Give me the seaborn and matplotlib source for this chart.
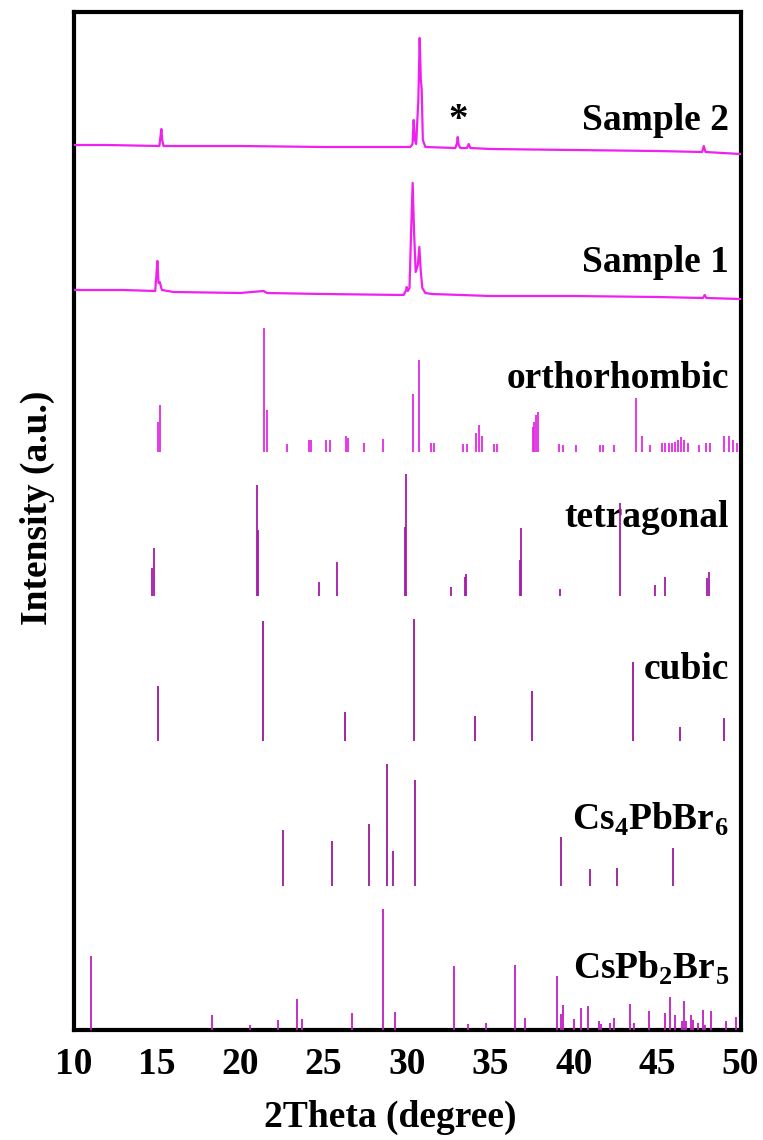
import numpy as np
import pandas as pd
import matplotlib
matplotlib.use("Agg")
import matplotlib.pyplot as plt
import seaborn as sns

# ---------------- data ----------------
# measured patterns (2theta, intensity above each trace's offset, a.u.)
sample2_x = [10, 12, 15.15, 15.22, 15.27, 15.32, 15.4, 20, 25, 30.2, 30.33, 30.4, 30.47, 30.55,
             30.68, 30.76, 30.83, 30.88, 30.95, 31.1, 32.9, 33.0, 33.04, 33.1, 33.2, 33.6, 33.7,
             33.8, 35, 40, 45, 47.7, 47.8, 47.9, 50]
sample2_y = [10, 10, 9, 19, 26, 15, 9, 9, 8, 8, 11, 35, 15, 11,
             55, 117, 75, 66, 15, 8, 7, 12, 18, 10, 7, 7, 11,
             7, 6, 5, 4, 3, 9, 3, 1]

sample1_x = [10, 13, 14.9, 14.97, 15.03, 15.1, 15.17, 15.3, 16, 20, 21.4, 21.6, 25, 29.8, 29.95,
             29.98, 30.05, 30.15, 30.25, 30.34, 30.42, 30.52, 30.65, 30.74, 30.82, 30.92, 31.1,
             31.5, 35, 40, 45, 47.75, 47.85, 47.95, 50]
sample1_y = [10, 10, 9, 25, 39, 17, 18, 10, 8, 7, 9, 7, 6, 5, 10,
             13, 9, 12, 70, 117, 70, 28, 35, 53, 30, 12, 7,
             6, 4, 4, 3, 2, 5, 2, 1]

# reference stick patterns (2theta, relative intensity)
ortho_pos = [15.07, 15.17, 21.45, 21.6, 22.8, 24.13, 24.26, 25.15, 25.36, 26.33, 26.46, 27.43,
             28.58, 30.38, 30.7, 31.45, 31.64, 33.38, 33.6, 34.13, 34.32, 34.48, 35.2, 35.39,
             37.53, 37.64, 37.72, 37.86, 39.14, 39.36, 40.16, 41.55, 41.77, 42.41, 43.75, 44.1,
             44.56, 45.31, 45.5, 45.7, 45.9, 46.1, 46.27, 46.43, 46.6, 46.86, 47.5, 47.94,
             48.15, 49.0, 49.3, 49.54, 49.8]
ortho_int = [30, 47, 124, 42, 8, 12, 12, 12, 12, 16, 14, 9,
             13, 58, 92, 9, 9, 8, 8, 19, 27, 16, 8, 8,
             25, 30, 37, 40, 8, 7, 7, 7, 7, 7, 54, 16,
             7, 9, 9, 9, 9, 10, 12, 15, 12, 9, 7, 9,
             9, 16, 16, 12, 9]

tetra_pos = [14.72, 14.83, 20.99, 21.05, 24.72, 25.79, 29.9, 29.97, 32.63, 33.46, 33.54, 36.78,
             36.86, 39.2, 42.76, 44.9, 45.5, 47.99, 48.12]
tetra_int = [28, 48, 111, 66, 14, 34, 69, 122, 9, 19, 22, 36,
             68, 7, 93, 11, 19, 18, 24]

cubic_pos = [15.07, 21.37, 26.27, 30.4, 34.1, 37.48, 43.56, 46.35, 49.0]
cubic_int = [55, 120, 29, 122, 25, 50, 79, 14, 23]

cs4_pos = [22.57, 25.52, 27.75, 28.82, 29.17, 30.48, 39.22, 40.96, 42.57, 45.98]
cs4_int = [56, 45, 62, 122, 35, 106, 49, 17, 18, 38]

cspb2_pos = [11.05, 18.31, 20.59, 22.25, 23.4, 23.7, 26.68, 28.58, 29.28, 32.79, 33.67, 34.75,
             36.49, 37.08, 38.98, 39.25, 39.36, 40.03, 40.46, 40.83, 41.5, 41.64, 42.15, 42.41,
             43.38, 43.62, 44.53, 45.47, 45.76, 46.06, 46.51, 46.62, 46.75, 47.05, 47.13, 47.45,
             47.75, 47.88, 48.26, 49.14, 49.73]
cspb2_int = [74, 15, 5, 10, 31, 11, 17, 121, 18, 64, 6, 7,
             65, 12, 54, 16, 25, 11, 22, 24, 9, 6, 7, 12,
             26, 7, 19, 17, 33, 15, 9, 29, 9, 15, 10, 7,
             20, 5, 19, 9, 13]

labels = ["Sample 2", "Sample 1", "orthorhombic", "tetragonal", "cubic",
          "Cs$_\\mathregular{4}$PbBr$_\\mathregular{6}$",
          "CsPb$_\\mathregular{2}$Br$_\\mathregular{5}$"]
offsets = [875, 730, 578, 434, 289, 144, 0]
xticks = [10, 15, 20, 25, 30, 35, 40, 45, 50]

# ---------------- style ----------------
sns.set_theme(style="white")
plt.rcParams["font.family"] = ["Liberation Serif", "DejaVu Serif"]
plt.rcParams["font.weight"] = "bold"
plt.rcParams["text.color"] = "black"
plt.rcParams["axes.labelcolor"] = "black"
plt.rcParams["xtick.color"] = "black"
plt.rcParams["ytick.color"] = "black"
plt.rcParams["mathtext.fontset"] = "custom"
plt.rcParams["mathtext.rm"] = "Liberation Serif:bold"

W, H = 763, 1140
fig = plt.figure(figsize=(W / 100, H / 100), dpi=100)
L, R, T, B = 73.5, 740.5, 12, 1030
ax = fig.add_axes([L / W, 1 - B / H, (R - L) / W, (B - T) / H])

line_col = "#F020F0"
stick_cols = ["#E42AE4", "#A818A8", "#9C149C", "#9B1A9B", "#C01EC0"]

# measured traces
for xs, ys, off in [(sample2_x, sample2_y, offsets[0]), (sample1_x, sample1_y, offsets[1])]:
    df = pd.DataFrame({"two_theta": xs, "intensity": np.array(ys) + off})
    sns.lineplot(data=df, x="two_theta", y="intensity", ax=ax, color=line_col,
                 linewidth=1.6, sort=False, estimator=None, zorder=3)

# stick patterns
sticks = [(ortho_pos, ortho_int), (tetra_pos, tetra_int), (cubic_pos, cubic_int),
          (cs4_pos, cs4_int), (cspb2_pos, cspb2_int)]
for (pos, inten), off, col in zip(sticks, offsets[2:], stick_cols):
    ax.vlines(pos, off, np.array(inten) + off, color=col, linewidth=1.3, zorder=3)

# pattern labels
label_base = [900, 758, 642, 503, 351, 200, 51]
for lab, yb in zip(labels, label_base):
    ax.text(49.3, yb, lab, ha="right", va="baseline", fontsize=27, fontweight="bold",
            color="black", zorder=2)
ax.text(33.05, 910, "*", ha="center", va="center", fontsize=28, fontweight="bold",
        color="black", zorder=2)

ax.set_xlim(10, 50)
ax.set_ylim(0, B - T)
ax.set_xticks(xticks)
ax.set_xticklabels([str(t) for t in xticks], fontsize=27, fontweight="bold", color="black")
ax.set_yticks([])
ax.tick_params(axis="x", length=0, pad=12)
for s in ax.spines.values():
    s.set_visible(True)
    s.set_color("black")
    s.set_linewidth(3.0)

ax.set_xlabel("2Theta (degree)", fontsize=27, fontweight="bold", color="black")
ax.xaxis.set_label_coords((390 - L) / (R - L), -(1100 - B) / (B - T))
ax.set_ylabel("Intensity (a.u.)", fontsize=27, fontweight="bold", color="black")
ax.yaxis.set_label_coords((55 - L) / (R - L), (B - 508) / (B - T))

fig.savefig("out.png", dpi=100)
